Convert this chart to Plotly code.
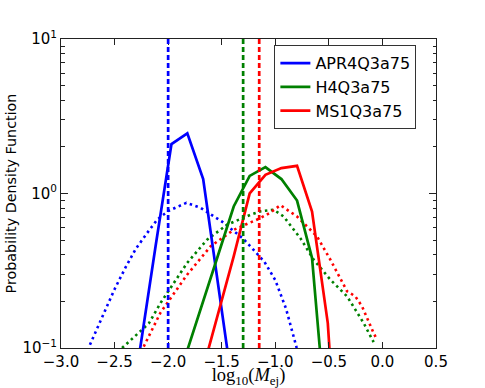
import plotly.graph_objects as go

# ---- data ----
names = ["APR4Q3a75", "H4Q3a75", "MS1Q3a75"]
colors = ["#0000ff", "#008000", "#ff0000"]

# histogram PDFs (solid)
apr_x = [-2.413, -2.265, -2.117, -1.969, -1.821, -1.673, -1.525, -1.377]
apr_y = [0.02, 0.098, 0.457, 2.09, 2.45, 1.24, 0.233, 0.044]

h4_x = [-1.976, -1.829, -1.682, -1.535, -1.388, -1.239, -1.092, -0.943, -0.797, -0.657, -0.51]
h4_y = [0.045, 0.092, 0.191, 0.397, 0.824, 1.30, 1.48, 1.24, 0.90, 0.382, 0.025]

ms1_x = [-1.682, -1.535, -1.388, -1.239, -1.092, -0.943, -0.797, -0.657, -0.51, -0.363]
ms1_y = [0.07, 0.166, 0.392, 1.0, 1.32, 1.46, 1.51, 0.765, 0.145, 0.004]

# smoothed PDFs (dotted)
apr_kde_x = [-2.73, -2.6, -2.5, -2.4, -2.3, -2.2, -2.1, -2.0, -1.9, -1.83, -1.7,
             -1.6, -1.5, -1.4, -1.3, -1.2, -1.1, -1.0, -0.9, -0.8]
apr_kde_y = [0.105, 0.17, 0.24, 0.33, 0.44, 0.55, 0.68, 0.77, 0.83, 0.87, 0.81,
             0.73, 0.66, 0.58, 0.51, 0.43, 0.36, 0.275, 0.18, 0.1]

h4_kde_x = [-2.43, -2.336, -2.181, -2.072, -1.95, -1.823, -1.636, -1.45, -1.232,
            -1.139, -1.015, -0.922, -0.766, -0.642, -0.486, -0.33, -0.175, -0.082]
h4_kde_y = [0.1, 0.115, 0.144, 0.195, 0.26, 0.355, 0.503, 0.628, 0.728,
            0.766, 0.785, 0.71, 0.514, 0.373, 0.277, 0.216, 0.145, 0.109]

ms1_kde_x = [-2.228, -2.072, -1.823, -1.605, -1.388, -1.139, -1.05, -0.952, -0.797,
             -0.61, -0.486, -0.33, -0.253, -0.19, -0.082, -0.05]
ms1_kde_y = [0.102, 0.169, 0.298, 0.454, 0.582, 0.693, 0.75, 0.84, 0.71,
             0.527, 0.373, 0.233, 0.216, 0.186, 0.125, 0.113]

# medians (dashed vertical lines)
medians = [-2.0, -1.30, -1.15]

x_ticks = [-3.0, -2.5, -2.0, -1.5, -1.0, -0.5, 0.0, 0.5]
y_ticks = [0.1, 1, 10]
y_ticktext = ["10<sup>\u22121</sup>", "10<sup>0</sup>", "10<sup>1</sup>"]

solid = [(apr_x, apr_y), (h4_x, h4_y), (ms1_x, ms1_y)]
dotted = [(apr_kde_x, apr_kde_y), (h4_kde_x, h4_kde_y), (ms1_kde_x, ms1_kde_y)]

fig = go.Figure()

for (x, y), c, n in zip(dotted, colors, names):
    fig.add_trace(go.Scatter(x=x, y=y, mode="lines", showlegend=False,
                             line=dict(color=c, width=2.6, dash="2.5px,3.5px"),
                             hoverinfo="skip"))

for (x, y), c, n in zip(solid, colors, names):
    fig.add_trace(go.Scatter(x=x, y=y, mode="lines", name=n,
                             line=dict(color=c, width=2.7)))

for m, c in zip(medians, colors):
    fig.add_shape(type="line", x0=m, x1=m, y0=0, y1=1, xref="x", yref="paper",
                  line=dict(color=c, width=2.7, dash="5px,3px"))

font = "DejaVu Sans"
axis_common = dict(showline=True, linecolor="#222", linewidth=1, mirror="ticks",
                   ticks="inside", tickcolor="#222", showgrid=False, zeroline=False,
                   automargin=False,
                   tickfont=dict(family=font, size=15, color="black"))

fig.update_layout(
    width=485, height=388,
    margin=dict(l=60.5, r=49, t=39, b=39.5),
    paper_bgcolor="white", plot_bgcolor="white",
    font=dict(family=font, color="black"),
    xaxis=dict(range=[-3.0, 0.5], tickvals=x_ticks, tickformat=".1f", ticklen=6,
               title=dict(text="log<sub>10</sub>(<i>M</i><sub>ej</sub>)",
                          font=dict(family="Liberation Serif", size=18.5), standoff=1),
               **axis_common),
    yaxis=dict(type="log", range=[-1, 1], tickvals=y_ticks, ticktext=y_ticktext, ticklen=7,
               minor=dict(ticks="inside", ticklen=3.5, tickcolor="#222",
                          tickvals=[k * d for d in (0.1, 1) for k in range(2, 10)]),
               title=dict(text="Probability Density Function",
                          font=dict(family=font, size=14.3), standoff=2),
               **axis_common),
    legend=dict(x=0.569, y=0.98, xanchor="left", yanchor="top",
                bgcolor="white", bordercolor="#333", borderwidth=1,
                font=dict(family=font, size=16)),
)

fig.write_html("out.html", config={"displayModeBar": False},
               post_script="document.body.style.margin='0';document.body.style.overflow='hidden';")
